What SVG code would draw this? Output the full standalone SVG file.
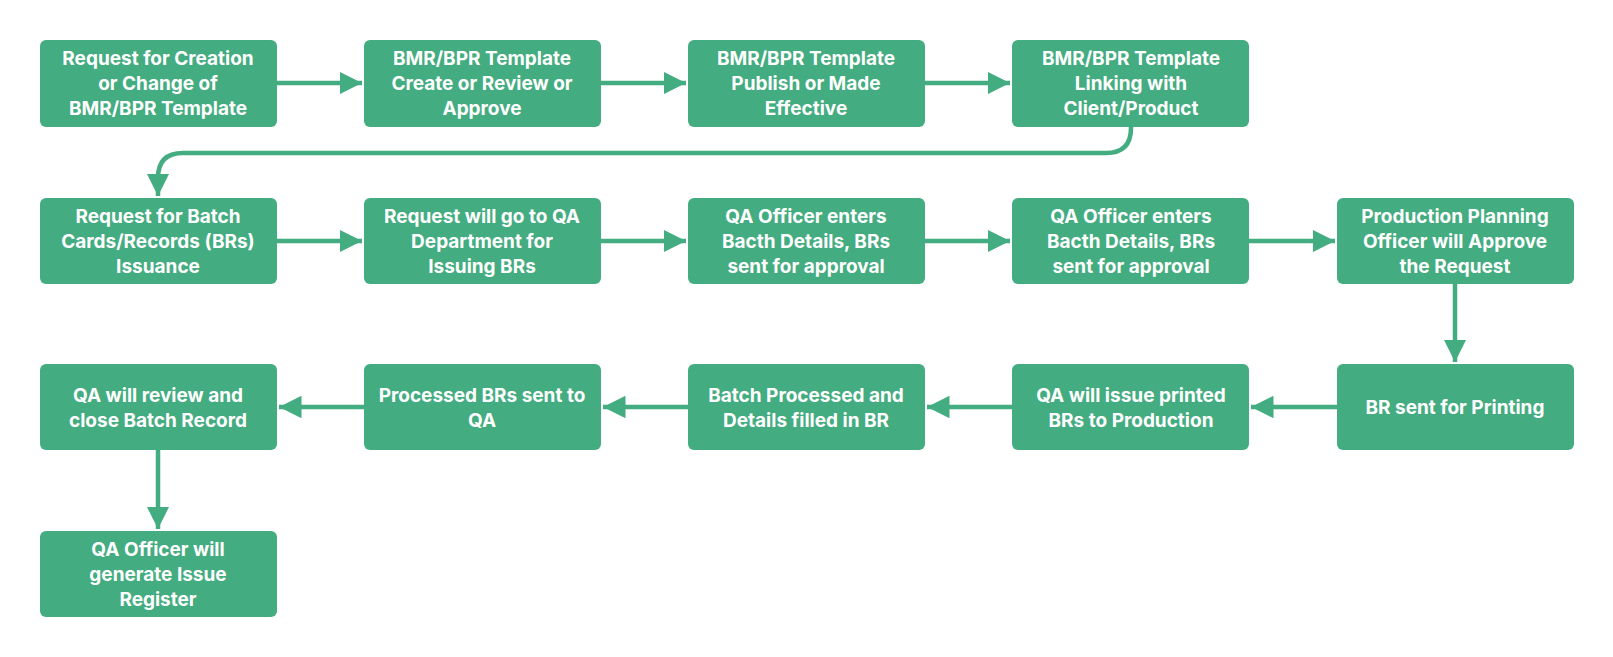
<svg xmlns="http://www.w3.org/2000/svg" width="1613" height="657" viewBox="0 0 1613 657">
<style>
.n rect{fill:#43ac80;}
.n text{fill:#fff;font-family:Inter,"Liberation Sans",sans-serif;font-weight:700;font-size:19px;text-anchor:middle;}
.c path{stroke:#43ac80;stroke-width:4.5;fill:none;}
</style>
<defs><marker id="a" viewBox="0 0 10 10" refX="10" refY="5" markerWidth="5" markerHeight="5" markerUnits="strokeWidth" orient="auto"><path d="M0,0L10,5L0,10z" fill="#43ac80"/></marker></defs>
<rect width="1613" height="657" fill="#fff"/>
<g class="c">
<path d="M277,83H362" marker-end="url(#a)"/>
<path d="M601,83H686" marker-end="url(#a)"/>
<path d="M925,83H1010" marker-end="url(#a)"/>
<path d="M1131,127V128Q1131,153 1106,153H183Q158,153 158,178V196" marker-end="url(#a)"/>
<path d="M277,241H362" marker-end="url(#a)"/>
<path d="M601,241H686" marker-end="url(#a)"/>
<path d="M925,241H1010" marker-end="url(#a)"/>
<path d="M1249,241H1335" marker-end="url(#a)"/>
<path d="M1455,284V362" marker-end="url(#a)"/>
<path d="M1337,407H1251" marker-end="url(#a)"/>
<path d="M1012,407H927" marker-end="url(#a)"/>
<path d="M688,407H603" marker-end="url(#a)"/>
<path d="M364,407H279" marker-end="url(#a)"/>
<path d="M158,450V529" marker-end="url(#a)"/>
</g>
<g class="n" id="n1"><rect x="40" y="40" width="237" height="87" rx="6"/><text x="158" y="65">Request for Creation</text><text x="158" y="90">or Change of</text><text x="158" y="115">BMR/BPR Template</text></g>
<g class="n" id="n2"><rect x="364" y="40" width="237" height="87" rx="6"/><text x="482" y="65">BMR/BPR Template</text><text x="482" y="90">Create or Review or</text><text x="482" y="115">Approve</text></g>
<g class="n" id="n3"><rect x="688" y="40" width="237" height="87" rx="6"/><text x="806" y="65">BMR/BPR Template</text><text x="806" y="90">Publish or Made</text><text x="806" y="115">Effective</text></g>
<g class="n" id="n4"><rect x="1012" y="40" width="237" height="87" rx="6"/><text x="1131" y="65">BMR/BPR Template</text><text x="1131" y="90">Linking with</text><text x="1131" y="115">Client/Product</text></g>
<g class="n" id="n5"><rect x="40" y="198" width="237" height="86" rx="6"/><text x="158" y="223">Request for Batch</text><text x="158" y="248">Cards/Records (BRs)</text><text x="158" y="273">Issuance</text></g>
<g class="n" id="n6"><rect x="364" y="198" width="237" height="86" rx="6"/><text x="482" y="223">Request will go to QA</text><text x="482" y="248">Department for</text><text x="482" y="273">Issuing BRs</text></g>
<g class="n" id="n7"><rect x="688" y="198" width="237" height="86" rx="6"/><text x="806" y="223">QA Officer enters</text><text x="806" y="248">Bacth Details, BRs</text><text x="806" y="273">sent for approval</text></g>
<g class="n" id="n8"><rect x="1012" y="198" width="237" height="86" rx="6"/><text x="1131" y="223">QA Officer enters</text><text x="1131" y="248">Bacth Details, BRs</text><text x="1131" y="273">sent for approval</text></g>
<g class="n" id="n9"><rect x="1337" y="198" width="237" height="86" rx="6"/><text x="1455" y="223">Production Planning</text><text x="1455" y="248">Officer will Approve</text><text x="1455" y="273">the Request</text></g>
<g class="n" id="n10"><rect x="1337" y="364" width="237" height="86" rx="6"/><text x="1455" y="414">BR sent for Printing</text></g>
<g class="n" id="n11"><rect x="1012" y="364" width="237" height="86" rx="6"/><text x="1131" y="402">QA will issue printed</text><text x="1131" y="427">BRs to Production</text></g>
<g class="n" id="n12"><rect x="688" y="364" width="237" height="86" rx="6"/><text x="806" y="402">Batch Processed and</text><text x="806" y="427">Details filled in BR</text></g>
<g class="n" id="n13"><rect x="364" y="364" width="237" height="86" rx="6"/><text x="482" y="402">Processed BRs sent to</text><text x="482" y="427">QA</text></g>
<g class="n" id="n14"><rect x="40" y="364" width="237" height="86" rx="6"/><text x="158" y="402">QA will review and</text><text x="158" y="427">close Batch Record</text></g>
<g class="n" id="n15"><rect x="40" y="531" width="237" height="86" rx="6"/><text x="158" y="556">QA Officer will</text><text x="158" y="581">generate Issue</text><text x="158" y="606">Register</text></g>
</svg>
